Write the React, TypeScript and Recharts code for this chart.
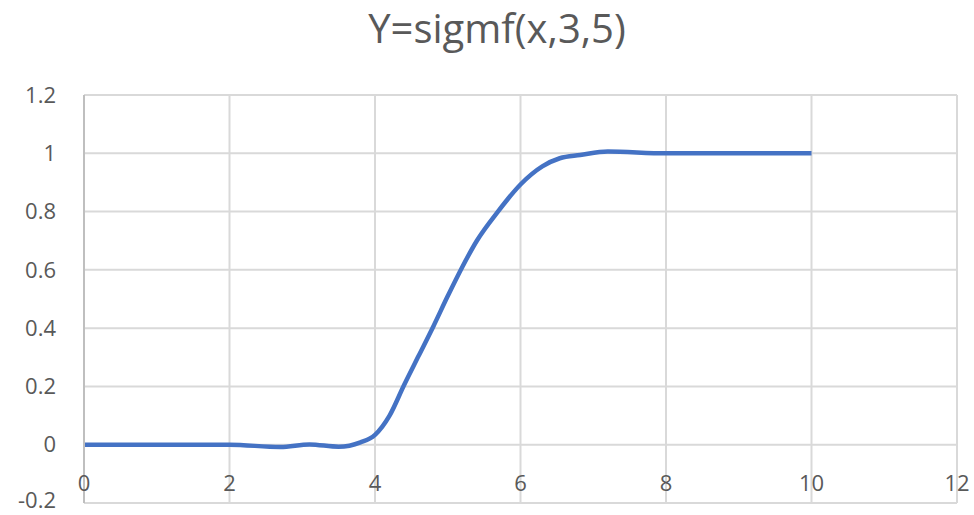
import React from "react";
import { LineChart, Line, XAxis, YAxis, CartesianGrid } from "recharts";

const title = "Y=sigmf(x,3,5)";
const xValues = [0, 1, 2, 2.7, 3.1, 3.5, 3.8, 4, 4.2, 4.4, 4.6, 4.8, 5, 5.2, 5.4, 5.69, 6, 6.3, 6.54, 6.82, 7.2, 8, 9, 10];
const yValues = [0, 0, 0, -0.008, 0.001, -0.007, 0.008, 0.034, 0.1, 0.205, 0.305, 0.405, 0.51, 0.61, 0.7, 0.8, 0.893, 0.955, 0.983, 0.994, 1.006, 1.0, 1.0, 1.0];
const xTicks = [0, 2, 4, 6, 8, 10, 12];
const yTicks = [-0.2, 0, 0.2, 0.4, 0.6, 0.8, 1, 1.2];

const data = xValues.map((x, i) => ({ x, y: yValues[i] }));

const FONT = "'Open Sans', 'Liberation Sans', sans-serif";
const TEXT_COLOR = "#595959";

const XTick = (props: any) => {
  const { x, y, payload } = props;
  return (
    <text
      x={x}
      y={y - 20}
      dy="0.35em"
      textAnchor="middle"
      fill={TEXT_COLOR}
      fontSize={22}
      fontFamily={FONT}
    >
      {payload.value}
    </text>
  );
};

const fmtY = (v: number) => {
  const r = Math.round(v * 10) / 10;
  return String(r);
};

const YTick = (props: any) => {
  const { x, y, payload } = props;
  const shift = payload.value < 0 ? -3 : 0;
  return (
    <text
      x={x}
      y={y + shift}
      dy="0.35em"
      textAnchor="end"
      fill={TEXT_COLOR}
      fontSize={22}
      fontFamily={FONT}
    >
      {fmtY(payload.value)}
    </text>
  );
};

export default function App() {
  return (
    <div style={{ position: "absolute", left: 0, top: 0, width: 974, height: 515, background: "#ffffff" }}>
      <LineChart
        width={974}
        height={515}
        data={data}
        margin={{ top: 95, right: 17, bottom: 0, left: 0 }}
      >
        <CartesianGrid stroke="#d9d9d9" strokeWidth={2} />
        <XAxis
          dataKey="x"
          type="number"
          domain={[0, 12]}
          ticks={xTicks}
          axisLine={false}
          tickLine={false}
          tickSize={0}
          tickMargin={0}
          height={12}
          tick={<XTick />}
          interval={0}
        />
        <YAxis
          type="number"
          domain={[-0.2, 1.2]}
          ticks={yTicks}
          width={84}
          axisLine={{ stroke: "#bfbfbf", strokeWidth: 2 }}
          tickLine={false}
          tickSize={0}
          tickMargin={28}
          tick={<YTick />}
          interval={0}
        />
        <Line
          type="monotone"
          dataKey="y"
          stroke="#4472C4"
          strokeWidth={4.5}
          dot={false}
          activeDot={false}
          isAnimationActive={false}
        />
      </LineChart>
      <svg
        width={974}
        height={70}
        style={{ position: "absolute", left: 0, top: 0, pointerEvents: "none" }}
      >
        <text
          x={497}
          y={43}
          textAnchor="middle"
          fill={TEXT_COLOR}
          fontSize={40}
          fontFamily={FONT}
        >
          {title}
        </text>
      </svg>
    </div>
  );
}
